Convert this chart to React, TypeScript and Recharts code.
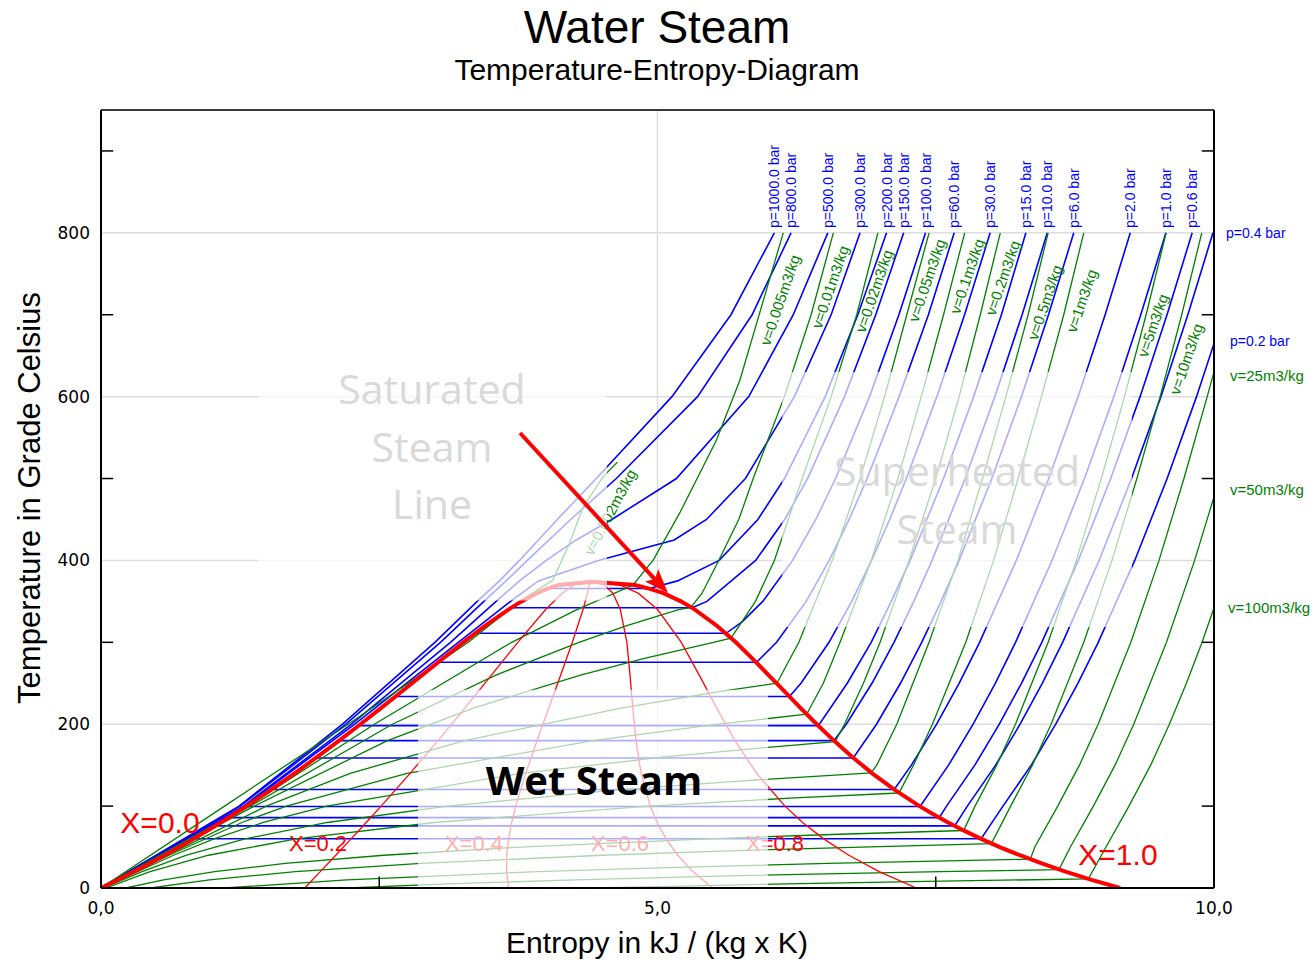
import {
  LineChart,
  Line,
  XAxis,
  YAxis,
  CartesianGrid,
  ReferenceLine,
  ReferenceArea,
  ReferenceDot,
} from "recharts";

// every point is [entropy kJ/(kg K), temperature °C]
type Pt = [number, number];

const BLUE = "#0000ff";
const GREEN = "#008000";
const RED = "#ff0000";
const SANS = "'Liberation Sans', Arial, sans-serif";
const HUMAN = "'Open Sans', sans-serif";

// saturation table
const satT = [0.01, 10, 20, 30, 40, 50, 60, 70, 80, 90, 100, 120, 140, 160, 180, 200, 220, 240, 260, 280, 300, 320, 340, 350, 360, 365, 370, 373.95];
const satSf = [0, 0.151, 0.2965, 0.4368, 0.5724, 0.7038, 0.8313, 0.9551, 1.0756, 1.1929, 1.3072, 1.5279, 1.7392, 1.9426, 2.1392, 2.3305, 2.5177, 2.702, 2.8849, 3.0685, 3.2552, 3.4494, 3.6601, 3.7784, 3.9167, 4.001, 4.1112, 4.407];
const satSg = [9.156, 8.9, 8.666, 8.452, 8.256, 8.075, 7.908, 7.754, 7.611, 7.478, 7.354, 7.129, 6.929, 6.75, 6.585, 6.431, 6.284, 6.141, 5.998, 5.853, 5.704, 5.536, 5.336, 5.211, 5.053, 4.94, 4.799, 4.407];

// lines of constant quality
const qT = [0.01, 20, 40, 60, 80, 100, 140, 180, 220, 260, 300, 340, 360, 370, 373.95];
const q02 = [1.831, 1.97, 2.109, 2.247, 2.383, 2.517, 2.777, 3.028, 3.271, 3.508, 3.745, 3.995, 4.144, 4.249, 4.407];
const q04 = [3.662, 3.644, 3.646, 3.662, 3.69, 3.726, 3.815, 3.918, 4.024, 4.13, 4.235, 4.331, 4.371, 4.386, 4.407];
const q06 = [5.494, 5.318, 5.183, 5.077, 4.997, 4.935, 4.853, 4.807, 4.778, 4.753, 4.725, 4.666, 4.599, 4.524, 4.407];
const q08 = [7.325, 6.992, 6.719, 6.493, 6.304, 6.145, 5.891, 5.696, 5.531, 5.375, 5.214, 5.001, 4.826, 4.661, 4.407];

// supercritical isobars
const p1000: Pt[] = [[0, 0], [1.24, 100], [2.17, 200], [3.0, 300], [3.38, 350], [3.58, 375], [3.76, 400], [4.1, 450], [4.45, 500], [5.13, 600], [5.66, 700], [6.05, 800]];
const p800: Pt[] = [[0, 0], [1.25, 100], [2.2, 200], [3.05, 300], [3.44, 350], [3.64, 375], [3.83, 400], [4.22, 450], [4.63, 500], [5.36, 600], [5.85, 700], [6.2, 800]];
const p500: Pt[] = [[0, 0], [1.28, 100], [2.25, 200], [3.14, 300], [3.55, 350], [3.76, 375], [4.0, 400], [4.27, 425], [4.59, 450], [5.17, 500], [5.82, 600], [6.22, 700], [6.53, 800]];
const p300: Pt[] = [[0, 0], [1.29, 100], [2.28, 200], [3.21, 300], [3.68, 350], [3.93, 375], [4.47, 400], [5.15, 425], [5.44, 450], [5.79, 500], [6.23, 600], [6.56, 700], [6.82, 800]];

// subcritical isobars: saturation temperature, liquid entropy, then the vapour branch
const pLabels = ["p=200.0 bar", "p=150.0 bar", "p=100.0 bar", "p=60.0 bar", "p=30.0 bar", "p=15.0 bar", "p=10.0 bar", "p=6.0 bar", "p=2.0 bar", "p=1.0 bar", "p=0.6 bar", "p=0.4 bar", "p=0.2 bar"];
const pTsat = [365.8, 342.2, 311.0, 275.6, 233.9, 198.3, 179.9, 158.8, 120.2, 99.6, 85.9, 75.9, 60.1];
const pSf = [4.015, 3.684, 3.36, 3.027, 2.645, 2.315, 2.139, 1.931, 1.53, 1.303, 1.145, 1.026, 0.832];
const p200: Pt[] = [[4.927, 365.8], [5.18, 375], [5.554, 400], [5.902, 450], [6.141, 500], [6.507, 600], [6.8, 700], [7.058, 800]];
const p150: Pt[] = [[5.311, 342.2], [5.444, 350], [5.882, 400], [6.143, 450], [6.348, 500], [6.68, 600], [6.961, 700], [7.212, 800]];
const p100: Pt[] = [[5.616, 311.0], [5.76, 325], [5.946, 350], [6.214, 400], [6.422, 450], [6.6, 500], [6.905, 600], [7.169, 700], [7.408, 800]];
const p60: Pt[] = [[5.89, 275.6], [6.07, 300], [6.336, 350], [6.543, 400], [6.722, 450], [6.883, 500], [7.171, 600], [7.434, 700], [7.666, 800]];
const p30: Pt[] = [[6.186, 233.9], [6.289, 250], [6.541, 300], [6.745, 350], [6.923, 400], [7.086, 450], [7.236, 500], [7.51, 600], [7.759, 700], [7.989, 800]];
const p15: Pt[] = [[6.445, 198.3], [6.705, 250], [6.92, 300], [7.1, 350], [7.27, 400], [7.57, 500], [7.84, 600], [8.09, 700], [8.31, 800]];
const p10: Pt[] = [[6.585, 179.9], [6.696, 200], [6.927, 250], [7.125, 300], [7.303, 350], [7.467, 400], [7.764, 500], [8.031, 600], [8.276, 700], [8.502, 800]];
const p6: Pt[] = [[6.759, 158.8], [6.968, 200], [7.183, 250], [7.374, 300], [7.548, 350], [7.71, 400], [8.004, 500], [8.27, 600], [8.513, 700], [8.74, 800]];
const p2: Pt[] = [[7.127, 120.2], [7.281, 150], [7.508, 200], [7.71, 250], [7.894, 300], [8.224, 400], [8.515, 500], [8.779, 600], [9.022, 700], [9.248, 800]];
const p1: Pt[] = [[7.359, 99.6], [7.615, 150], [7.836, 200], [8.035, 250], [8.217, 300], [8.545, 400], [8.836, 500], [9.1, 600], [9.342, 700], [9.568, 800]];
const p06: Pt[] = [[7.531, 85.9], [7.597, 100], [7.851, 150], [8.071, 200], [8.27, 250], [8.453, 300], [8.781, 400], [9.072, 500], [9.336, 600], [9.578, 700], [9.804, 800]];
const p04: Pt[] = [[7.67, 75.9], [7.784, 100], [8.038, 150], [8.258, 200], [8.457, 250], [8.64, 300], [8.968, 400], [9.259, 500], [9.523, 600], [9.765, 700], [9.991, 800]];
const p02: Pt[] = [[7.908, 60.1], [8.104, 100], [8.358, 150], [8.578, 200], [8.777, 250], [8.96, 300], [9.288, 400], [9.579, 500], [9.843, 600], [10.085, 700]];
const pVapour = [p200, p150, p100, p60, p30, p15, p10, p6, p2, p1, p06, p04, p02];

// isochores
const v0002: Pt[] = [[0, 0], [1.11, 100], [2.22, 200], [3.3, 300], [3.74, 348], [4.06, 376], [4.21, 421], [4.33, 465], [4.51, 502], [4.64, 520]];
const v0005: Pt[] = [[0, 0], [1.321, 100], [2.456, 200], [3.69, 300], [4.275, 340], [4.616, 360], [4.78, 370], [4.96, 400], [5.2, 458], [5.53, 547], [5.74, 620], [6.13, 800]];
const v001: Pt[] = [[0, 0], [1.34, 100], [2.618, 200], [3.548, 260], [4.295, 300], [4.717, 320], [5.19, 340], [5.3, 342.5], [5.4, 360], [5.55, 400], [5.73, 450], [5.86, 500], [6.14, 600], [6.38, 700], [6.58, 800]];
const v002: Pt[] = [[0, 0], [1.376, 100], [2.574, 180], [3.352, 220], [4.309, 260], [4.873, 280], [5.503, 300], [5.66, 305], [5.88, 350], [6.05, 400], [6.3, 500], [6.56, 600], [6.79, 700], [6.98, 800]];
const v005: Pt[] = [[0, 0], [1.485, 100], [2.239, 140], [3.266, 180], [4.683, 220], [5.567, 240], [6.073, 250], [6.27, 300], [6.57, 400], [6.82, 500], [7.04, 600], [7.24, 700], [7.44, 800]];
const v01: Pt[] = [[0.004, 0], [0.611, 40], [1.266, 80], [1.665, 100], [2.751, 140], [4.419, 180], [5.547, 200], [6.34, 212.2], [6.49, 250], [6.64, 300], [6.92, 400], [7.16, 500], [7.37, 600], [7.57, 700], [7.76, 800]];
const v02: Pt[] = [[0.009, 0], [0.651, 40], [1.015, 60], [1.458, 80], [2.027, 100], [3.774, 140], [5.067, 160], [5.844, 170], [6.597, 178.7], [6.68, 200], [6.85, 250], [7.0, 300], [7.26, 400], [7.5, 500], [7.71, 600], [7.9, 700], [8.08, 800]];
const v05: Pt[] = [[0.022, 0], [0.369, 20], [0.769, 40], [1.293, 60], [2.034, 80], [3.113, 100], [4.666, 120], [5.668, 130], [6.92, 140.7], [6.97, 150], [7.15, 200], [7.44, 300], [7.7, 400], [7.92, 500], [8.13, 600], [8.33, 700], [8.51, 800]];
const v1: Pt[] = [[0.044, 0], [0.441, 20], [0.966, 40], [1.754, 60], [2.995, 80], [4.922, 100], [6.235, 110], [7.17, 116], [7.3, 150], [7.47, 200], [7.77, 300], [8.02, 400], [8.24, 500], [8.45, 600], [8.65, 700], [8.83, 800]];
const v5: Pt[] = [[0.222, 0], [0.562, 10], [1.021, 20], [1.656, 30], [2.541, 40], [3.768, 50], [5.447, 60], [6.49, 65], [7.751, 70.2], [7.853, 100], [8.048, 150], [8.216, 200], [8.51, 300], [8.763, 400], [8.987, 500], [9.196, 600], [9.39, 700], [9.57, 800]];
const v10: Pt[] = [[0.444, 0], [0.974, 10], [1.746, 20], [2.874, 30], [4.509, 40], [5.573, 45], [6.831, 50], [8.0, 54.3], [8.173, 100], [8.368, 150], [8.536, 200], [8.83, 300], [9.083, 400], [9.307, 500], [9.516, 600], [9.71, 700], [9.89, 800]];
const v25: Pt[] = [[1.111, 0], [2.209, 10], [3.919, 20], [5.091, 25], [6.531, 30], [8.35, 35.2], [8.39, 50], [8.596, 100], [8.791, 150], [8.959, 200], [9.253, 300], [9.506, 400], [9.73, 500], [9.939, 600], [10.04, 650]];
const v50: Pt[] = [[2.222, 0], [3.119, 5], [4.265, 10], [5.718, 15], [7.544, 20], [8.607, 22.5], [8.71, 50], [8.916, 100], [9.111, 150], [9.279, 200], [9.573, 300], [9.826, 400], [10.05, 500]];
const v100: Pt[] = [[4.444, 0], [6.161, 5], [7.42, 8], [8.871, 11.2], [9.03, 50], [9.236, 100], [9.431, 150], [9.599, 200], [9.752, 250], [9.893, 300], [10.02, 350]];
const isochores = [v0002, v0005, v001, v002, v005, v01, v02, v05, v1, v5, v10, v25, v50, v100];

// where the isochore names sit along their lines
const vLabels = ["v=0.002m3/kg", "v=0.005m3/kg", "v=0.01m3/kg", "v=0.02m3/kg", "v=0.05m3/kg", "v=0.1m3/kg", "v=0.2m3/kg", "v=0.5m3/kg", "v=1m3/kg", "v=5m3/kg", "v=10m3/kg"];
const vLabelS = [4.573, 6.1, 6.55, 6.945, 7.42, 7.78, 8.1, 8.48, 8.81, 9.45, 9.75];
const vLabelT = [459, 718, 734, 729, 742, 747, 745, 715, 717, 687, 646];

const rows = (pts: Pt[]) => pts.map(([s, t]) => ({ s, t }));

const line = (key: string, pts: Pt[], stroke: string, width: number, z?: number) => (
  <Line
    key={key}
    data={rows(pts)}
    dataKey="t"
    type="linear"
    stroke={stroke}
    strokeWidth={width}
    dot={false}
    activeDot={false}
    legendType="none"
    isAnimationActive={false}
    {...(z ? { zIndex: z } : {})}
  />
);

const note = (
  key: string,
  s: number,
  t: number,
  text: string,
  style: Record<string, any>,
  angle = 0,
  anchor = "middle",
  z = 440
) => (
  <ReferenceDot
    key={key}
    x={s}
    y={t}
    r={1}
    ifOverflow="visible"
    zIndex={z}
    shape={(p: any) => (
      <text
        x={p.cx}
        y={p.cy}
        textAnchor={anchor}
        dominantBaseline="central"
        transform={angle ? `rotate(${angle} ${p.cx} ${p.cy})` : undefined}
        {...style}
      >
        {text}
      </text>
    )}
  />
);

const blueTxt = { fill: BLUE, fontSize: 14, fontFamily: SANS };
const greenTxt = { fill: GREEN, fontSize: 15, fontFamily: SANS };
const grayTxt = { fill: "#d9d9d9", fontSize: 41, fontFamily: HUMAN };

export default function App() {
  const liquid: Pt[] = satT.map((t, i) => [satSf[i], t]);
  const vapour: Pt[] = satT.map((t, i) => [satSg[i], t] as Pt).reverse();
  const dome: Pt[] = [...liquid, ...vapour.slice(1)];

  const subLines = pLabels.map((label, i) => ({
    label,
    pts: [
      ...liquid.filter(([, t]) => t < pTsat[i]),
      [pSf[i], pTsat[i]] as Pt,
      ...pVapour[i],
    ],
  }));
  const superLines = [
    { label: "p=1000.0 bar", pts: p1000 },
    { label: "p=800.0 bar", pts: p800 },
    { label: "p=500.0 bar", pts: p500 },
    { label: "p=300.0 bar", pts: p300 },
  ];
  const isobars = [...superLines, ...subLines];
  const topLabelled = isobars.filter((b) => b.pts[b.pts.length - 1][1] === 800 && b.label !== "p=0.4 bar");

  const quality = [q02, q04, q06, q08].map((q) => qT.map((t, i) => [q[i], t] as Pt));

  const minorT = [100, 300, 500, 700, 900];

  return (
    <div style={{ position: "absolute", left: 0, top: 0, width: 1314, height: 960, background: "#fff", fontFamily: SANS }}>
      <LineChart width={1314} height={960} margin={{ top: 110, right: 100, bottom: 42, left: 41 }}>
        <CartesianGrid stroke="#dddddd" strokeWidth={1.5} />
        <XAxis
          dataKey="s"
          type="number"
          domain={[0, 10]}
          ticks={[0, 5, 10]}
          allowDataOverflow
          height={30}
          tickFormatter={(v: number) => v.toFixed(1).replace(".", ",")}
          axisLine={{ stroke: "#000", strokeWidth: 2 }}
          tickLine={false}
          tickSize={6}
          tickMargin={8}
          tick={{ fill: "#000", fontSize: 17, fontFamily: "'DejaVu Sans', sans-serif" }}
        />
        <YAxis
          dataKey="t"
          type="number"
          domain={[0, 950]}
          ticks={[0, 200, 400, 600, 800]}
          allowDataOverflow
          width={60}
          axisLine={{ stroke: "#000", strokeWidth: 2 }}
          tickLine={false}
          tickSize={6}
          tickMargin={5}
          tick={{ fill: "#000", fontSize: 17, fontFamily: "'DejaVu Sans', sans-serif" }}
        />

        {isobars.map((b) => line(b.label, b.pts, BLUE, 1.6))}
        {isochores.map((v, i) => line(`v${i}`, v, GREEN, 1.3))}
        {quality.map((q, i) => line(`x${i}`, q, RED, 1.3))}
        {line("dome", dome, RED, 4)}

        {note("x0", 0.53, 79.4, "X=0.0", { fill: RED, fontSize: 30, fontFamily: SANS }, 0, "middle", 410)}
        {note("x2", 1.95, 54.9, "X=0.2", { fill: RED, fontSize: 22, fontFamily: SANS }, 0, "middle", 410)}
        {note("x4", 3.351, 54.9, "X=0.4", { fill: RED, fontSize: 22, fontFamily: SANS }, 0, "middle", 410)}
        {note("x6", 4.663, 54.9, "X=0.6", { fill: RED, fontSize: 22, fontFamily: SANS }, 0, "middle", 410)}
        {note("x8", 6.056, 54.9, "X=0.8", { fill: RED, fontSize: 22, fontFamily: SANS }, 0, "middle", 410)}
        {note("x10", 9.137, 40.3, "X=1.0", { fill: RED, fontSize: 30, fontFamily: SANS }, 0, "middle", 410)}

        {topLabelled.map((b) =>
          note(`lab-${b.label}`, b.pts[b.pts.length - 1][0], 806, b.label, blueTxt, -90, "start", 410)
        )}
        {note("p04", 10.108, 800, "p=0.4 bar", blueTxt, 0, "start", 410)}
        {note("p02", 10.144, 668, "p=0.2 bar", blueTxt, 0, "start", 410)}
        {note("v25", 10.144, 626, "v=25m3/kg", greenTxt, 0, "start", 410)}
        {note("v50", 10.144, 486, "v=50m3/kg", greenTxt, 0, "start", 410)}
        {note("v100", 10.126, 342, "v=100m3/kg", greenTxt, 0, "start", 410)}
        {vLabels.map((txt, i) =>
          note(`vl${i}`, vLabelS[i], vLabelT[i], txt, greenTxt, i === 0 ? -62 : -71, "middle", 410)
        )}

        <ReferenceArea x1={1.41} x2={4.546} y1={351} y2={645} fill="#fff" fillOpacity={0.68} stroke="none" ifOverflow="hidden" zIndex={420} />
        <ReferenceArea x1={6.12} x2={9.263} y1={318.7} y2={630} fill="#fff" fillOpacity={0.68} stroke="none" ifOverflow="hidden" zIndex={420} />
        <ReferenceArea x1={2.848} x2={5.993} y1={0} y2={242} fill="#fff" fillOpacity={0.68} stroke="none" ifOverflow="hidden" zIndex={420} />

        {line("arrow", [[3.765, 555.6], [5.0, 373.6]], RED, 4, 430)}
        <ReferenceDot
          x={5.094}
          y={360.2}
          r={1}
          ifOverflow="visible"
          zIndex={430}
          shape={(p: any) => (
            <polygon
              points="0,0 -24,-9 -19,0 -24,9"
              fill={RED}
              transform={`translate(${p.cx} ${p.cy}) rotate(47)`}
            />
          )}
        />

        {note("sat1", 2.974, 610.5, "Saturated", grayTxt)}
        {note("sat2", 2.974, 539.7, "Steam", grayTxt)}
        {note("sat3", 2.974, 470.1, "Line", grayTxt)}
        {note("sup1", 7.691, 510.4, "Superheated", grayTxt)}
        {note("sup2", 7.691, 439.6, "Steam", grayTxt)}
        {note("wet", 4.429, 131.9, "Wet Steam", { fill: "#000", fontSize: 40, fontWeight: 700, fontFamily: HUMAN })}

        <ReferenceLine x={10} stroke="#000" strokeWidth={2} zIndex={450} />
        <ReferenceLine y={950} stroke="#000" strokeWidth={1.5} zIndex={450} />
        {minorT.map((t) => (
          <ReferenceLine key={`l${t}`} segment={[{ x: 0, y: t }, { x: 0.11, y: t }]} stroke="#000" strokeWidth={1.5} zIndex={450} />
        ))}
        {minorT.map((t) => (
          <ReferenceLine key={`r${t}`} segment={[{ x: 9.89, y: t }, { x: 10, y: t }]} stroke="#000" strokeWidth={1.5} zIndex={450} />
        ))}
        {[2.5, 7.5].map((s) => (
          <ReferenceLine key={`b${s}`} segment={[{ x: s, y: 0 }, { x: s, y: 14 }]} stroke="#000" strokeWidth={1.5} zIndex={450} />
        ))}
      </LineChart>

      <div style={{ position: "absolute", left: 0, top: 0, width: 1314, textAlign: "center", fontSize: 46, lineHeight: "54px" }}>
        Water Steam
      </div>
      <div style={{ position: "absolute", left: 0, top: 52, width: 1314, textAlign: "center", fontSize: 30, lineHeight: "36px" }}>
        Temperature-Entropy-Diagram
      </div>
      <div style={{ position: "absolute", left: 0, top: 925, width: 1314, textAlign: "center", fontSize: 30, lineHeight: "36px" }}>
        Entropy in kJ / (kg x K)
      </div>
      <div
        style={{
          position: "absolute",
          left: 30 - 300,
          top: 498 - 18,
          width: 600,
          height: 36,
          textAlign: "center",
          fontSize: 31,
          lineHeight: "36px",
          transform: "rotate(-90deg)",
        }}
      >
        Temperature in Grade Celsius
      </div>
    </div>
  );
}
